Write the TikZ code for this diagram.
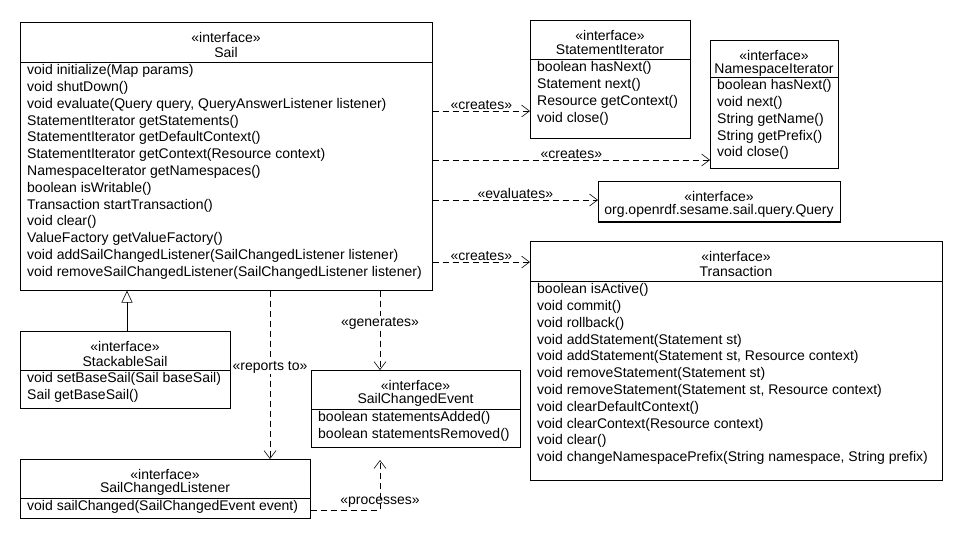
\documentclass[tikz,border=0pt]{standalone}
\usepackage{fontspec}
\setmainfont{Liberation Sans}
\usetikzlibrary{arrows.meta}
\begin{document}
\begin{tikzpicture}[x=1pt,y=-1pt,
 t/.style={inner sep=0,anchor=west,font=\fontsize{14}{16}\selectfont},
 h/.style={inner sep=0,anchor=center,font=\fontsize{14}{16}\selectfont},
 dep/.style={draw,semithick,dash pattern=on 6pt off 4pt,-{Straight Barb[length=8pt,width=12pt]}},
 lab/.style={inner sep=1pt,font=\fontsize{14}{16}\selectfont}]
\useasboundingbox (0,0) rectangle (960,550);
\newcommand\umlbox[8]{% name, x1,y1,x2,y2,sep,title, list
 \node[draw,semithick,inner sep=0,minimum width=#4-#2,minimum height=#5-#3,anchor=north west] (#1) at (#2,#3) {};
 \draw[semithick] (#2,#6) -- (#4,#6);
 \node[h] at ({(#2+#4)/2},{#3+15}) {«interface»};
 \node[h] at ({(#2+#4)/2},{#3+30}) {#7};
 \foreach \s [count=\i] in {#8} {\node[t] at (#2+7,{#6+9+(\i-1)*16.8}) {\s};}
}
\umlbox{sail}{20}{22}{432}{290}{62}{Sail}{void initialize(Map params),void shutDown(),{void evaluate(Query query, QueryAnswerListener listener)},StatementIterator getStatements(),StatementIterator getDefaultContext(),StatementIterator getContext(Resource context),NamespaceIterator getNamespaces(),boolean isWritable(),Transaction startTransaction(),void clear(),ValueFactory getValueFactory(),void addSailChangedListener(SailChangedListener listener),void removeSailChangedListener(SailChangedListener listener)}
\umlbox{si}{530}{20}{690}{138}{59}{StatementIterator}{boolean hasNext(),Statement next(),Resource getContext(),void close()}
\umlbox{ni}{710}{40}{838}{168}{77}{NamespaceIterator}{boolean hasNext(),void next(),String getName(),String getPrefix(),void close()}
\umlbox{q}{598}{181}{840}{222}{221}{org.openrdf.sesame.sail.query.Query}{}
\umlbox{tr}{530}{241}{942}{480}{281}{Transaction}{boolean isActive(),void commit(),void rollback(),void addStatement(Statement st),{void addStatement(Statement st, Resource context)},void removeStatement(Statement st),{void removeStatement(Statement st, Resource context)},void clearDefaultContext(),void clearContext(Resource context),void clear(),{void changeNamespacePrefix(String namespace, String prefix)}}
\umlbox{ss}{20}{331}{230}{408}{370}{StackableSail}{void setBaseSail(Sail baseSail),Sail getBaseSail()}
\umlbox{sce}{311}{370}{520}{447}{409}{SailChangedEvent}{boolean statementsAdded(),boolean statementsRemoved()}
\umlbox{scl}{20}{459}{310}{518}{498}{SailChangedListener}{void sailChanged(SailChangedEvent event)}
\draw[dep] (sail.east|-0,111) -- node[lab,above]{«creates»} (si.west|-0,111);
\draw[dep] (sail.east|-0,160) -- node[lab,above]{«creates»} (ni.west|-0,160);
\draw[dep] (sail.east|-0,200) -- node[lab,above]{«evaluates»} (q.west|-0,200);
\draw[dep] (sail.east|-0,262) -- node[lab,above]{«creates»} (tr.west|-0,262);
\draw[semithick,-{Triangle[open,length=12pt,width=11pt]}] (ss.north-|127,0) -- (sail.south-|127,0);
\draw[dep] (sail.south-|270,0) -- (scl.north-|270,0);
\node[lab,fill=white] at (270,367) {«reports to»};
\draw[dep] (sail.south-|380,0) -- (sce.north-|380,0);
\node[lab,fill=white] at (380,323) {«generates»};
\coordinate (pe) at (380,460);
\draw[dep] (scl.east|-0,510) -- (380,510) -- (pe);
\node[lab] at (380,502) {«processes»};
\end{tikzpicture}
\end{document}
